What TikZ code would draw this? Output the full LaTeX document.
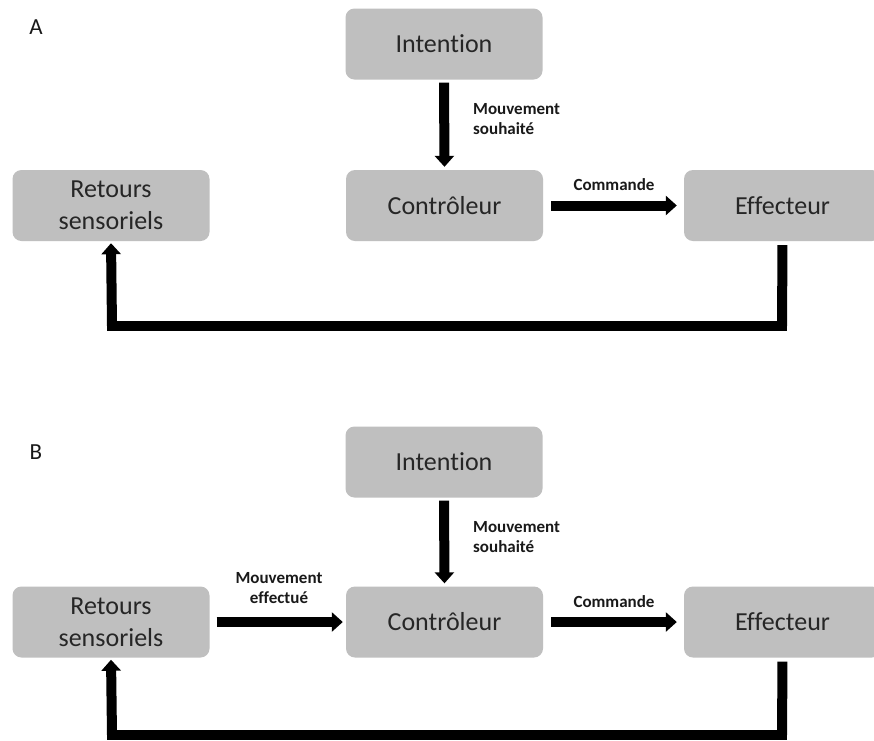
\documentclass[tikz,border=0pt]{standalone}
\usepackage{fontspec}
\setmainfont{Carlito}[Ligatures=NoCommon]
\usetikzlibrary{arrows.meta}
\tikzset{
  box/.style={fill=gray!50, rounded corners=9pt, minimum width=197pt, minimum height=71pt,
    inner sep=0pt, align=center, text=black!85, font=\fontsize{26}{32}\selectfont},
  lbl/.style={inner sep=0pt, text=black!90, font=\bfseries\fontsize{17}{20}\selectfont},
  panel/.style={inner sep=0pt, text=black!90, font=\fontsize{23}{27}\selectfont},
  thick arrow/.style={line width=10pt, -{Triangle[width=19pt,length=11pt]}},
  thick line/.style={line width=10pt}
}
\begin{document}
\begin{tikzpicture}[x=1pt,y=-1pt]
\clip (0,0) rectangle (874,740);
\fill[white] (0,0) rectangle (874,740);
% ---------- Panel A ----------
\node[panel] (labA) at (36,27) {A};
\node[box] (intA) at (444,44) {Intention};
\node[box] (retA) at (111,205.5) {Retours\\sensoriels};
\node[box] (ctrA) at (444.5,205.5) {Contrôleur};
\node[box] (effA) at (782.5,205.5) {Effecteur};
\draw[thick arrow, shorten <=3pt, shorten >=3pt] (intA.south) -- (ctrA.north);
\node[lbl, anchor=west, align=left] (msA) at (473,119) {Mouvement\\souhaité};
\draw[thick arrow, shorten <=8pt, shorten >=7pt] (ctrA.east) -- (effA.west);
\node[lbl] (cmA) at (614,185) {Commande};
\coordinate (cA1) at (782,326);
\coordinate (cA2) at (112,326);
\draw[thick line, shorten <=4pt] (effA.south) -- (cA1);
\draw[thick line, line cap=rect] (cA1) -- (cA2);
\draw[thick arrow, shorten >=2pt] (cA2) -- (retA.south);
% ---------- Panel B ----------
\node[panel] (labB) at (36,452) {B};
\node[box] (intB) at (444,462) {Intention};
\node[box] (retB) at (111,622) {Retours\\sensoriels};
\node[box] (ctrB) at (444.5,622) {Contrôleur};
\node[box] (effB) at (782.5,622) {Effecteur};
\draw[thick arrow, shorten <=3pt, shorten >=3pt] (intB.south) -- (ctrB.north);
\node[lbl, anchor=west, align=left] (msB) at (473,537) {Mouvement\\souhaité};
\draw[thick arrow, shorten <=7pt, shorten >=3pt] (retB.east) -- (ctrB.west);
\node[lbl, align=center] (meB) at (279,588) {Mouvement\\effectué};
\draw[thick arrow, shorten <=8pt, shorten >=7pt] (ctrB.east) -- (effB.west);
\node[lbl] (cmB) at (614,602) {Commande};
\coordinate (cB1) at (782,735);
\coordinate (cB2) at (112,735);
\draw[thick line, shorten <=4pt] (effB.south) -- (cB1);
\draw[thick line, line cap=rect] (cB1) -- (cB2);
\draw[thick arrow, shorten >=2pt] (cB2) -- (retB.south);
\end{tikzpicture}
\end{document}
